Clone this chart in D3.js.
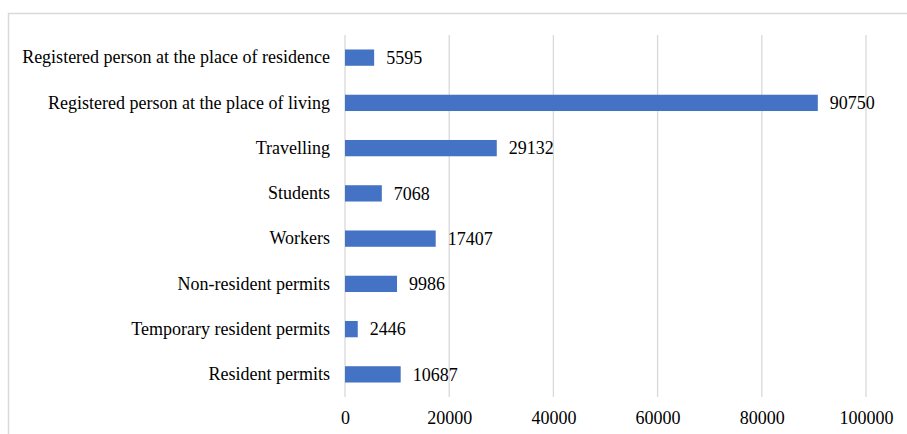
<!DOCTYPE html>
<html><head><meta charset="utf-8">
<script src="https://cdn.jsdelivr.net/npm/d3@7"></script>
<style>body{margin:0;background:#fff}svg{display:block}</style>
</head><body>
<script>
const categories = ["Registered person at the place of residence","Registered person at the place of living","Travelling","Students","Workers","Non-resident permits","Temporary resident permits","Resident permits"];
const values = [5595, 90750, 29132, 7068, 17407, 9986, 2446, 10687];
const tickValues = [0, 20000, 40000, 60000, 80000, 100000];

const W = 907, H = 434;
const svg = d3.select("body").append("svg").attr("width", W).attr("height", H);
const font = "'Liberation Serif', 'Times New Roman', serif";
const fs = 18;

// chart border
svg.append("path").attr("d", `M8.5,${H} V13.5 H${W}`).attr("fill","none").attr("stroke","#d9d9d9").attr("stroke-width",1.5);

const x = d3.scaleLinear().domain([0, 100000]).range([345, 866]);
const y = d3.scaleBand().domain(categories).range([35, 397]).paddingInner(0.64).paddingOuter(0.32);

// gridlines
svg.append("g").selectAll("line").data(tickValues).join("line")
  .attr("x1", d => x(d)).attr("x2", d => x(d)).attr("y1", 35).attr("y2", 397)
  .attr("stroke", "#d9d9d9").attr("stroke-width", 1.3);

// x axis labels
const xAxis = d3.axisBottom(x).tickValues(tickValues).tickFormat(d3.format("d")).tickSize(0).tickPadding(0);
const gx = svg.append("g").attr("transform", "translate(0,418)").call(xAxis);
gx.select(".domain").remove();
gx.selectAll("text").attr("font-family", font).attr("font-size", fs).attr("fill", "#000").attr("y", 0).attr("dy", "0.33em");

// y axis labels
const yAxis = d3.axisLeft(y).tickSize(0).tickPadding(15);
const gy = svg.append("g").attr("transform", "translate(345,0)").call(yAxis);
gy.select(".domain").remove();
gy.selectAll("text").attr("font-family", font).attr("font-size", fs).attr("fill", "#000");

// bars
svg.append("g").selectAll("rect").data(values).join("rect")
  .attr("x", x(0)).attr("y", (d,i) => y(categories[i]))
  .attr("width", d => x(d) - x(0)).attr("height", y.bandwidth())
  .attr("fill", "#4472C4");

// value labels
svg.append("g").selectAll("text").data(values).join("text")
  .attr("x", d => x(d) + 12).attr("y", (d,i) => y(categories[i]) + y.bandwidth()/2)
  .attr("dy", "0.35em").attr("font-family", font).attr("font-size", fs).attr("fill", "#000")
  .text(d => d);
</script>
</body></html>
